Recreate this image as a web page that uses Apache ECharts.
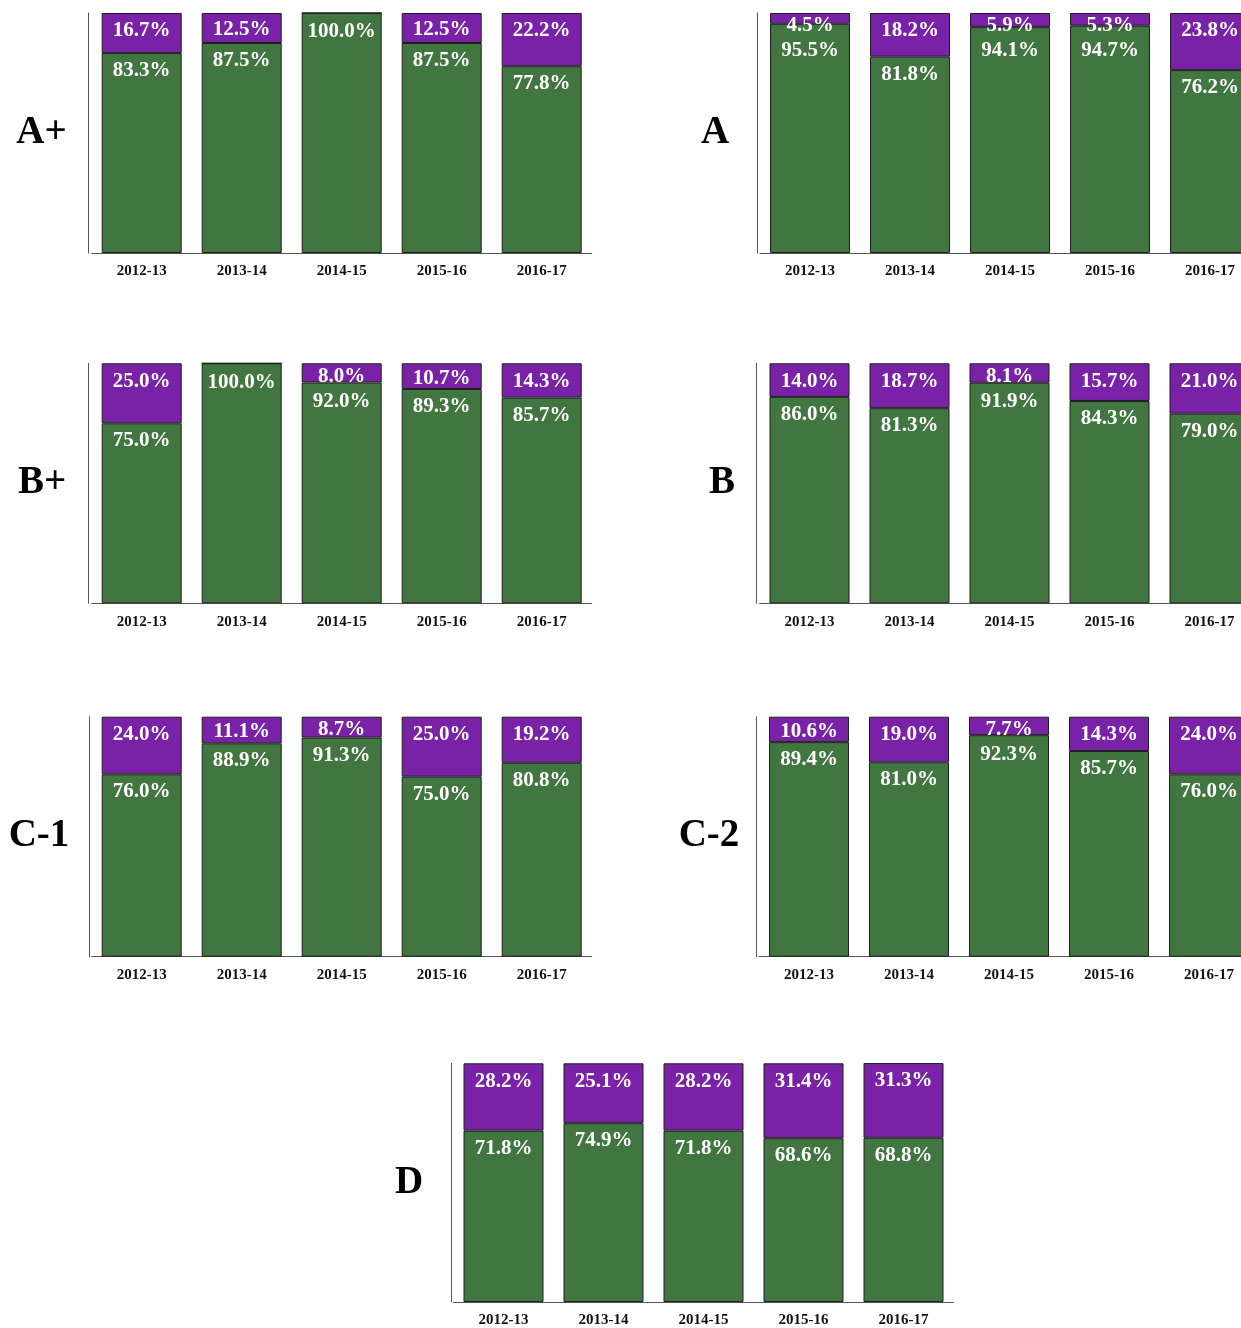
<!DOCTYPE html>
<html>
<head>
<meta charset="utf-8">
<title>grade shares</title>
<script src="https://cdn.jsdelivr.net/npm/echarts@6/dist/echarts.min.js"></script>
<style>
	html,body{margin:0;padding:0;background:#fff;overflow:hidden;}
	/* wider than the window: the right column runs off the edge */
	#main{width:1300px;height:1328px;}
</style>
</head>
<body>
<div id="main"></div>
<script>
	var years = ['2012-13','2013-14','2014-15','2015-16','2016-17'];
	var grades = ['A+','A','B+','B','C-1','C-2','D'];

	// green = lower segment, purple = top segment (percent)
	var greenAPlus  = [83.3, 87.5, 100.0, 87.5, 77.8];
	var purpleAPlus = [16.7, 12.5, 0, 12.5, 22.2];
	var greenA      = [95.5, 81.8, 94.1, 94.7, 76.2];
	var purpleA     = [4.5, 18.2, 5.9, 5.3, 23.8];
	var greenBPlus  = [75.0, 100.0, 92.0, 89.3, 85.7];
	var purpleBPlus = [25.0, 0, 8.0, 10.7, 14.3];
	var greenB      = [86.0, 81.3, 91.9, 84.3, 79.0];
	var purpleB     = [14.0, 18.7, 8.1, 15.7, 21.0];
	var greenC1     = [76.0, 88.9, 91.3, 75.0, 80.8];
	var purpleC1    = [24.0, 11.1, 8.7, 25.0, 19.2];
	var greenC2     = [89.4, 81.0, 92.3, 85.7, 76.0];
	var purpleC2    = [10.6, 19.0, 7.7, 14.3, 24.0];
	var greenD      = [71.8, 74.9, 71.8, 68.6, 68.8];
	var purpleD     = [28.2, 25.1, 28.2, 31.4, 31.3];

	var greens = [greenAPlus, greenA, greenBPlus, greenB, greenC1, greenC2, greenD];
	var purples = [purpleAPlus, purpleA, purpleBPlus, purpleB, purpleC1, purpleC2, purpleD];

	var GREEN = '#417640';
	var PURPLE = '#7a22a7';
	var FONT = '"Liberation Serif","Times New Roman",serif';
	var H = 240; // plot height of each panel
	var PX = H / 100;

	// where each panel sits, and where its grade name goes
	var panels = [
		{left:91.7, top:13,     off:3.4, tx:41.5, ty:133},
		{left:760,  top:13,     off:2.3, tx:715,  ty:133},
		{left:91.7, top:363.3,  off:3.4, tx:42,   ty:483},
		{left:759.5,top:363.3,  off:2.8, tx:722,  ty:483},
		{left:91.7, top:716.7,  off:2.4, tx:39,   ty:836},
		{left:759,  top:716.7,  off:3,   tx:709,  ty:836},
		{left:453.5,top:1063.3, off:1.8, tx:409,  ty:1183}
	];

	function fmt(p){
		return p.value > 0 ? p.value.toFixed(1) + '%' : '';
	}

	var grid = [], xAxis = [], yAxis = [], series = [], graphic = [];
	panels.forEach(function(pn, i){
		grid.push({left: pn.left, top: pn.top, width: 500, height: H});
		xAxis.push({
			gridIndex: i,
			type: 'category',
			data: years,
			axisLine: {lineStyle: {color: '#555', width: 1}},
			axisTick: {show: false},
			axisLabel: {fontFamily: FONT, fontWeight: 'bold', fontSize: 15, color: '#111', margin: 11}
		});
		yAxis.push({
			gridIndex: i,
			type: 'value',
			min: 0,
			max: 100,
			offset: pn.off,
			axisLine: {show: true, lineStyle: {color: '#555', width: 1}},
			axisTick: {show: false},
			axisLabel: {show: false},
			splitLine: {show: false}
		});

		// label positions: purple label near the bar top, green one below it
		var gData = [], pData = [];
		greens[i].forEach(function(g, j){
			var h = purples[i][j] * PX;
			var pc = Math.min(16, Math.max(11, h / 2));
			var gc = h > 0 ? Math.max(h + 15.5, pc + 25) - h : 17;
			pData.push({value: purples[i][j], label: {offset: [0, pc - 8.5]}});
			gData.push({value: g, label: {offset: [0, gc - 8.5]}});
		});

		var common = {
			type: 'bar',
			stack: 'p' + i,
			xAxisIndex: i,
			yAxisIndex: i,
			barWidth: 80,
			label: {
				show: true,
				position: 'insideTop',
				distance: 0,
				formatter: fmt,
				color: '#fff',
				fontFamily: FONT,
				fontWeight: 'bold',
				fontSize: 21,
				lineHeight: 21
			}
		};
		series.push(echarts.util.merge({
			name: grades[i] + ' green',
			itemStyle: {color: GREEN, borderColor: '#1e1e1e', borderWidth: 1},
			data: gData
		}, common));
		series.push(echarts.util.merge({
			name: grades[i] + ' purple',
			itemStyle: {color: PURPLE, borderColor: '#1e1e1e', borderWidth: 1},
			data: pData
		}, common));

		graphic.push({
			type: 'text',
			x: pn.tx,
			y: pn.ty,
			style: {
				text: grades[i],
				font: 'bold 39px ' + FONT,
				fill: '#000',
				align: 'center',
				verticalAlign: 'middle',
				textAlign: 'center',
				textVerticalAlign: 'middle'
			}
		});
	});

	var myChart = echarts.init(document.getElementById('main'), null, {renderer: 'canvas'});
	myChart.setOption({
		animation: false,
		backgroundColor: '#fff',
		grid: grid,
		xAxis: xAxis,
		yAxis: yAxis,
		series: series,
		graphic: graphic
	});
</script>
</body>
</html>
